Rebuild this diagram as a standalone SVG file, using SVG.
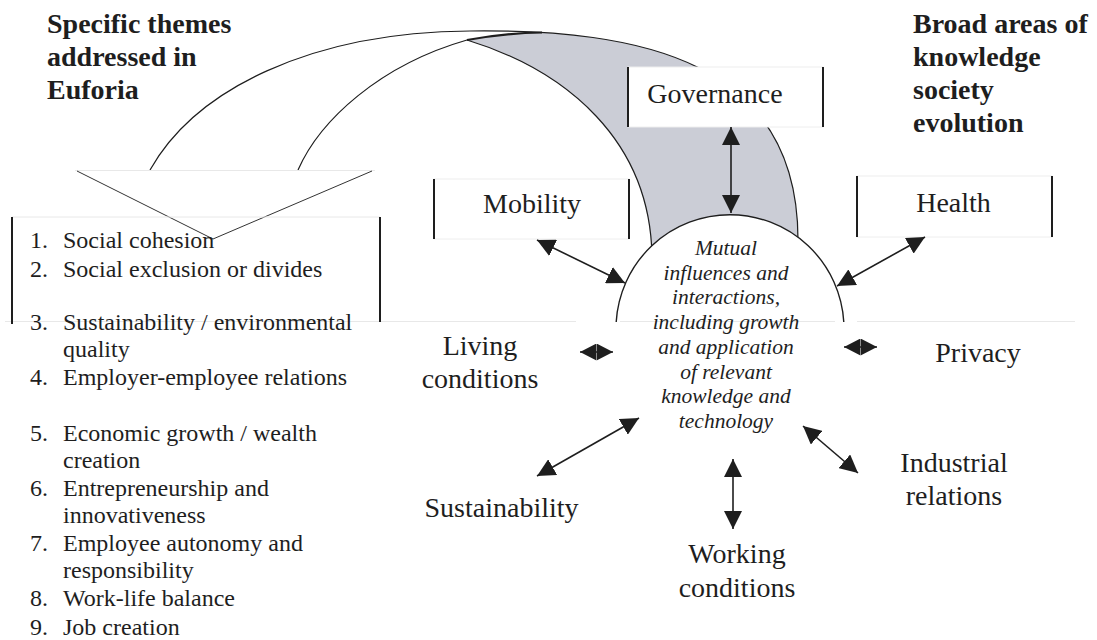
<svg xmlns="http://www.w3.org/2000/svg" width="1097" height="640" viewBox="0 0 1097 640">
<defs>
<style>
.t{font-family:"Liberation Serif","Times New Roman",serif;fill:#1e1e1e}
.title{font-size:28px;font-weight:bold}
.lbl{font-size:28px;text-anchor:middle}
.item{font-size:24px}
.mid{font-size:21.5px;font-style:italic;text-anchor:middle}
.side{stroke:#1e1e1e;stroke-width:2;fill:none}
.faint{stroke:#e8e8e8;stroke-width:1;fill:none}
.curve{stroke:#1e1e1e;stroke-width:1.2;fill:none}
.conn{stroke:#1e1e1e;stroke-width:1.6;fill:none}
</style>
<marker id="ah" viewBox="0 0 18 18" refX="18" refY="9" markerWidth="18" markerHeight="18" markerUnits="userSpaceOnUse" orient="auto-start-reverse"><path d="M0,0 L18,9 L0,18 Z" fill="#1e1e1e"/></marker>
<marker id="ahs" viewBox="0 0 16.5 17" refX="16.5" refY="8.5" markerWidth="16.5" markerHeight="17" markerUnits="userSpaceOnUse" orient="auto-start-reverse"><path d="M0,0 L16.5,8.5 L0,17 Z" fill="#1e1e1e"/></marker>
</defs>
<rect width="1097" height="640" fill="#ffffff"/>

<g id="curved-arrow">
  <path d="M467,40 Q505,33 545,32.7 C683.8,41.65 798,87 798,240 L798,322 L652,322 L652,260 C652,140 565,70 467,40 Z" fill="#cbcdd6"/>
  <path class="curve" d="M150,170 C195,90 310,32 470,31 C640,29 798,60 798,240"/>
  <path class="curve" d="M298,170 C320,120 380,65 467,40"/>
  <path class="curve" d="M652,260 C652,140 565,70 467,40"/>
  <path d="M467,40 Q505,33 542,32.5" stroke="#1e1e1e" stroke-width="2.2" fill="none"/>
  <line class="faint" x1="75" y1="170.5" x2="375" y2="170.5"/>
  <path d="M77,171 L213,239 L372,171" stroke="#333" stroke-width="1" fill="none"/>
</g>

<g id="title-left">
  <text class="t title" x="47" y="33">Specific themes</text>
  <text class="t title" x="47" y="66">addressed in</text>
  <text class="t title" x="47" y="99">Euforia</text>
</g>
<g id="title-right">
  <text class="t title" x="913" y="33">Broad areas of</text>
  <text class="t title" x="913" y="66">knowledge</text>
  <text class="t title" x="913" y="99">society</text>
  <text class="t title" x="913" y="132">evolution</text>
</g>

<g id="themes-list">
  <line class="faint" x1="12" y1="217" x2="380" y2="217"/>
  <line class="faint" x1="5" y1="321.5" x2="576" y2="321.5"/>
  <line class="side" x1="12" y1="217" x2="12" y2="324"/>
  <line class="side" x1="380" y1="217" x2="380" y2="322"/>
  <g class="t item">
    <text x="30" y="248">1.</text><text x="63" y="248">Social cohesion</text>
    <text x="30" y="276.5">2.</text><text x="63" y="276.5">Social exclusion or divides</text>
    <text x="30" y="330">3.</text><text x="63" y="330">Sustainability / environmental</text>
    <text x="63" y="356.5">quality</text>
    <text x="30" y="385">4.</text><text x="63" y="385">Employer-employee relations</text>
    <text x="30" y="441">5.</text><text x="63" y="441">Economic growth / wealth</text>
    <text x="63" y="467.5">creation</text>
    <text x="30" y="496">6.</text><text x="63" y="496">Entrepreneurship and</text>
    <text x="63" y="522.5">innovativeness</text>
    <text x="30" y="551">7.</text><text x="63" y="551">Employee autonomy and</text>
    <text x="63" y="577.5">responsibility</text>
    <text x="30" y="606">8.</text><text x="63" y="606">Work-life balance</text>
    <text x="30" y="634.5">9.</text><text x="63" y="634.5">Job creation</text>
  </g>
</g>

<g id="governance">
  <rect x="628" y="67" width="195" height="60" fill="#ffffff" stroke="#eeeeee" stroke-width="1"/>
  <line class="side" x1="628" y1="67" x2="628" y2="127"/>
  <line class="side" x1="823" y1="67" x2="823" y2="127"/>
  <text class="t lbl" x="715" y="102.5">Governance</text>
</g>
<g id="mobility">
  <rect x="434" y="179" width="195" height="60" fill="#ffffff" stroke="#eeeeee" stroke-width="1"/>
  <line class="side" x1="434" y1="179" x2="434" y2="239"/>
  <line class="side" x1="629" y1="179" x2="629" y2="239"/>
  <text class="t lbl" x="532" y="213">Mobility</text>
</g>
<g id="health">
  <rect x="857" y="176" width="195" height="61" fill="#ffffff" stroke="#eeeeee" stroke-width="1"/>
  <line class="side" x1="857" y1="176" x2="857" y2="237"/>
  <line class="side" x1="1052" y1="176" x2="1052" y2="237"/>
  <text class="t lbl" x="953.5" y="211.5">Health</text>
</g>

<g id="center">
  <path d="M616.2,322 A114,114 0 0 1 843.8,322 Z" fill="#ffffff"/>
  <path d="M616.2,322 A114,114 0 0 1 843.8,322" stroke="#1e1e1e" stroke-width="1.4" fill="none"/>
  <line class="faint" x1="620" y1="321.5" x2="835" y2="321.5"/>
  <line class="faint" x1="857" y1="321.5" x2="1075" y2="321.5"/>
  <g class="t mid">
    <text x="726" y="255">Mutual</text>
    <text x="726" y="279.7">influences and</text>
    <text x="726" y="304.4">interactions,</text>
    <text x="726" y="329.1">including growth</text>
    <text x="726" y="353.8">and application</text>
    <text x="726" y="378.5">of relevant</text>
    <text x="726" y="403.2">knowledge and</text>
    <text x="726" y="427.9">technology</text>
  </g>
</g>

<g id="living-conditions">
  <text class="t lbl" x="480" y="355">Living</text>
  <text class="t lbl" x="480" y="388">conditions</text>
</g>
<g id="privacy">
  <text class="t lbl" x="978" y="361.5">Privacy</text>
</g>
<g id="sustainability">
  <text class="t lbl" x="501.5" y="516.5">Sustainability</text>
</g>
<g id="working-conditions">
  <text class="t lbl" x="737" y="563">Working</text>
  <text class="t lbl" x="737" y="596.5">conditions</text>
</g>
<g id="industrial-relations">
  <text class="t lbl" x="954" y="471.5">Industrial</text>
  <text class="t lbl" x="954" y="505">relations</text>
</g>

<g id="connectors">
  <line class="conn" x1="731" y1="127" x2="731" y2="213" marker-start="url(#ah)" marker-end="url(#ah)"/>
  <line class="conn" x1="537" y1="240" x2="625" y2="283" marker-start="url(#ah)" marker-end="url(#ah)"/>
  <line class="conn" x1="925" y1="237" x2="837" y2="286" marker-start="url(#ah)" marker-end="url(#ah)"/>
  <line class="conn" x1="580" y1="352" x2="613" y2="352" marker-start="url(#ahs)" marker-end="url(#ahs)"/>
  <line class="conn" x1="844" y1="347" x2="877" y2="347" marker-start="url(#ahs)" marker-end="url(#ahs)"/>
  <line class="conn" x1="537" y1="476" x2="639" y2="418" marker-start="url(#ah)" marker-end="url(#ah)"/>
  <line class="conn" x1="733" y1="459" x2="733" y2="529" marker-start="url(#ah)" marker-end="url(#ah)"/>
  <line class="conn" x1="803" y1="426" x2="858" y2="473" marker-start="url(#ah)" marker-end="url(#ah)"/>
</g>
</svg>
